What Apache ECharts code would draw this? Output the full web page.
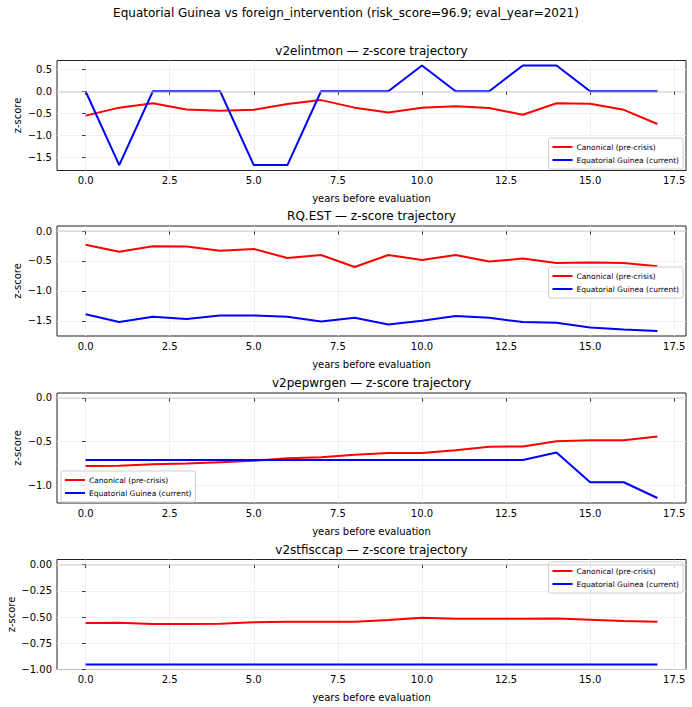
<!DOCTYPE html>
<html>
<head>
<meta charset="utf-8">
<script src="https://cdn.jsdelivr.net/npm/echarts@6/dist/echarts.min.js"></script>
<style>
  html, body { margin: 0; padding: 0; background: #fff; }
  #chart { width: 692px; height: 707px; }
</style>
</head>
<body>
<div id="chart"></div>
<script>
// years before evaluation
const years = [0, 1, 2, 3, 4, 5, 6, 7, 8, 9, 10, 11, 12, 13, 14, 15, 16, 17];
const xTicks = [0, 2.5, 5, 7.5, 10, 12.5, 15, 17.5];

// v2elintmon
const elintmonCanon = [-0.55, -0.37, -0.27, -0.41, -0.44, -0.42, -0.29, -0.20, -0.37, -0.48, -0.37, -0.34, -0.38, -0.53, -0.27, -0.28, -0.42, -0.74];
const elintmonCurrent = [0, -1.667, 0, 0, 0, -1.667, -1.667, 0, 0, 0, 0.583, 0, 0, 0.583, 0.583, 0, 0, 0];
const elintmonTicks = [-1.5, -1.0, -0.5, 0.0, 0.5];

// RQ.EST
const rqestCanon = [-0.23, -0.345, -0.255, -0.26, -0.33, -0.30, -0.45, -0.40, -0.60, -0.40, -0.485, -0.40, -0.51, -0.46, -0.535, -0.525, -0.535, -0.59];
const rqestCurrent = [-1.39, -1.52, -1.43, -1.47, -1.41, -1.41, -1.43, -1.51, -1.45, -1.56, -1.50, -1.42, -1.45, -1.52, -1.53, -1.61, -1.645, -1.67];
const rqestTicks = [-1.5, -1.0, -0.5, 0.0];

// v2pepwrgen
const pepwrgenCanon = [-0.78, -0.775, -0.76, -0.75, -0.735, -0.72, -0.69, -0.68, -0.65, -0.63, -0.63, -0.60, -0.56, -0.555, -0.495, -0.485, -0.485, -0.44];
const pepwrgenCurrent = [-0.71, -0.71, -0.71, -0.71, -0.71, -0.71, -0.71, -0.71, -0.71, -0.71, -0.71, -0.71, -0.71, -0.71, -0.625, -0.965, -0.965, -1.146];
const pepwrgenTicks = [-1.0, -0.5, 0.0];

// v2stfisccap
const fisccapCanon = [-0.557, -0.554, -0.567, -0.567, -0.564, -0.551, -0.545, -0.545, -0.545, -0.529, -0.506, -0.516, -0.516, -0.516, -0.513, -0.525, -0.538, -0.545];
const fisccapCurrent = [-0.952, -0.952, -0.952, -0.952, -0.952, -0.952, -0.952, -0.952, -0.952, -0.952, -0.952, -0.952, -0.952, -0.952, -0.952, -0.952, -0.952, -0.952];
const fisccapTicks = [-1.0, -0.75, -0.5, -0.25, 0.0];

const panels = [
  { name: 'v2elintmon', canon: elintmonCanon, cur: elintmonCurrent, ticks: elintmonTicks, min: -1.79, max: 0.695, dec: 1, top: 60.5,
    legend: { right: 9, top: 138 } },
  { name: 'RQ.EST', canon: rqestCanon, cur: rqestCurrent, ticks: rqestTicks, min: -1.753, max: 0.084, dec: 1, top: 226,
    legend: { right: 9, top: 267 } },
  { name: 'v2pepwrgen', canon: pepwrgenCanon, cur: pepwrgenCurrent, ticks: pepwrgenTicks, min: -1.203, max: 0.057, dec: 1, top: 393,
    legend: { left: 61, top: 471 } },
  { name: 'v2stfisccap', canon: fisccapCanon, cur: fisccapCurrent, ticks: fisccapTicks, min: -1.0, max: 0.048, dec: 2, top: 559.5,
    legend: { right: 9, top: 562 } }
];

const CANON = 'Canonical (pre-crisis)';
const CURRENT = 'Equatorial Guinea (current)';
const font = 'DejaVu Sans';
const fmt = (v, d) => v.toFixed(d).replace('-', '\u2212');

const chart = echarts.init(document.getElementById('chart'), null, { renderer: 'svg' });

const option = {
  animation: false,
  backgroundColor: '#fff',
  textStyle: { fontFamily: font },
  title: [{
    text: 'Equatorial Guinea vs foreign_intervention (risk_score=96.9; eval_year=2021)',
    left: 346, textAlign: 'center', top: 7, padding: 0,
    textStyle: { fontSize: 12, fontWeight: 'normal', color: '#000', fontFamily: font }
  }],
  legend: [],
  grid: [],
  xAxis: [],
  yAxis: [],
  series: []
};

panels.forEach((p, i) => {
  option.title.push({
    text: p.name + ' \u2014 z-score trajectory',
    left: 371.5, textAlign: 'center', top: p.top - 16, padding: 0,
    textStyle: { fontSize: 12, fontWeight: 'normal', color: '#000', fontFamily: font }
  });
  option.grid.push({
    left: 57, right: 6, top: p.top, height: 110,
    outerBoundsMode: 'none', containLabel: false,
    show: true, borderColor: '#222', borderWidth: 1, backgroundColor: 'transparent'
  });
  option.legend.push(Object.assign({
    orient: 'vertical',
    data: [CANON, CURRENT],
    icon: 'rect', itemWidth: 20, itemHeight: 2, itemGap: 5,
    padding: [5, 4, 5, 4],
    backgroundColor: 'rgba(255,255,255,0.8)',
    borderColor: '#d0d0d0', borderWidth: 1, borderRadius: 2,
    selectedMode: false,
    textStyle: { fontSize: 7.5, color: '#000', fontFamily: font, padding: [0, 0, 0, -1] }
  }, p.legend));
  option.xAxis.push({
    type: 'value', gridIndex: i, min: -0.85, max: 17.85,
    name: 'years before evaluation', nameLocation: 'middle', nameGap: 23,
    nameTextStyle: { fontSize: 10, color: '#000' },
    axisLine: { show: false },
    axisTick: { show: true, length: 3.5, inside: false, customValues: xTicks, lineStyle: { color: '#000', width: 0.8 } },
    axisLabel: { customValues: xTicks, fontSize: 10, color: '#000', margin: 5, formatter: v => fmt(v, 1) },
    splitLine: { show: true, lineStyle: { color: '#ebebeb', width: 0.8 } }
  });
  option.yAxis.push({
    type: 'value', gridIndex: i, min: p.min, max: p.max,
    name: 'z-score', nameLocation: 'middle', nameGap: p.dec === 2 ? 41 : 35, nameRotate: 90,
    nameMoveOverlap: false,
    nameTextStyle: { fontSize: 10, color: '#000' },
    axisLine: { show: false },
    axisTick: { show: true, length: 3.5, inside: false, customValues: p.ticks, lineStyle: { color: '#000', width: 0.8 } },
    axisLabel: { customValues: p.ticks, fontSize: 10, color: '#000', margin: 5, formatter: v => fmt(v, p.dec) },
    splitLine: { show: true, lineStyle: { color: '#ebebeb', width: 0.8 } }
  });
  option.series.push({
    name: CANON, type: 'line', xAxisIndex: i, yAxisIndex: i,
    data: years.map((y, k) => [y, p.canon[k]]),
    showSymbol: false, symbol: 'none', color: '#ff0000',
    lineStyle: { width: 2, color: '#ff0000' },
    markLine: {
      silent: true, symbol: 'none', label: { show: false },
      lineStyle: { color: '#c8c8c8', width: 1.5, type: 'solid', opacity: 0.6 },
      data: [{ yAxis: 0 }]
    }
  });
  option.series.push({
    name: CURRENT, type: 'line', xAxisIndex: i, yAxisIndex: i,
    data: years.map((y, k) => [y, p.cur[k]]),
    showSymbol: false, symbol: 'none', color: '#0000ff',
    lineStyle: { width: 2, color: '#0000ff' }
  });
});

chart.setOption(option);
</script>
</body>
</html>
